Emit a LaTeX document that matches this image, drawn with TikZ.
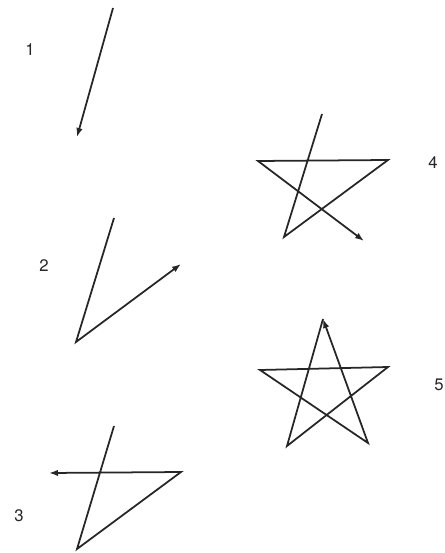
\documentclass[tikz,border=0pt]{standalone}
\usepackage{fontspec}
\setsansfont{TeX Gyre Heros}
\usetikzlibrary{arrows.meta}

\begin{document}
\begin{tikzpicture}[
  x=0.02cm, y=-0.02cm,
  stroke/.style={line width=1pt, line join=miter, black!85},
  arr/.style={stroke, -{Latex[length=1.8mm, width=1.3mm]}},
  num/.style={font=\sffamily\fontsize{9.5}{11}\selectfont, black!85}
]
\useasboundingbox (0,0) rectangle (445,553);

% stage 1
\coordinate (p1a) at (113,8);
\coordinate (p1b) at (77,137);
\draw[arr] (p1a) -- (p1b);
\node[num] (n1) at (30,50) {1};

% stage 2
\coordinate (p2a) at (114,218);
\coordinate (p2b) at (76,342);
\coordinate (p2c) at (181,264);
\draw[arr] (p2a) -- (p2b) -- (p2c);
\node[num] (n2) at (44,266) {2};

% stage 3
\coordinate (p3a) at (114,426);
\coordinate (p3b) at (77,549);
\coordinate (p3c) at (181,472);
\coordinate (p3d) at (49,473);
\draw[arr] (p3a) -- (p3b) -- (p3c) -- (p3d);
\node[num] (n3) at (19,516) {3};

% stage 4
\coordinate (p4a) at (322,114);
\coordinate (p4b) at (284,237);
\coordinate (p4c) at (388,160);
\coordinate (p4d) at (258,161);
\coordinate (p4e) at (364,241);
\draw[arr] (p4a) -- (p4b) -- (p4c) -- (p4d) -- (p4e);
\node[num] (n4) at (433,163) {4};

% stage 5
\coordinate (p5a) at (323,319);
\coordinate (p5b) at (287,446);
\coordinate (p5c) at (388,367);
\coordinate (p5d) at (260,370);
\coordinate (p5e) at (368,443);
\draw[arr] (p5a) -- (p5b) -- (p5c) -- (p5d) -- (p5e) -- (p5a);
\node[num, inner sep=0pt] (n5) at (439,385) {5};
\end{tikzpicture}
\end{document}
